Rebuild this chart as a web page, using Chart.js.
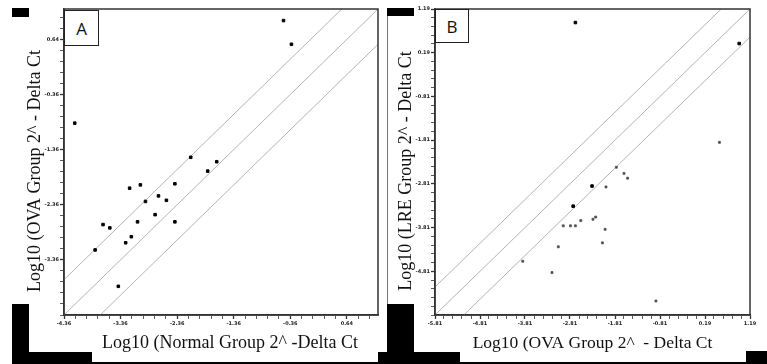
<!DOCTYPE html>
<html>
<head>
<meta charset="utf-8">
<script src="https://cdn.jsdelivr.net/npm/chart.js@4.4.1/dist/chart.umd.min.js"></script>
<style>
  html, body { margin: 0; padding: 0; background: #fff; }
  #page { position: relative; width: 767px; height: 364px; overflow: hidden; background: #fff; }
  canvas { position: absolute; top: 0; }
  #chartA { left: 0; }
  #chartB { left: 383px; }
  .blk { position: absolute; background: #000; }
  .vline { position: absolute; background: #777; width: 1px; }
  .tag {
    position: absolute; box-sizing: border-box; border: 1.5px solid #222; background: #fff;
    font-family: "Open Sans", "Liberation Sans", sans-serif; font-size: 17px; color: #111;
    display: flex; align-items: center; justify-content: center;
  }
</style>
</head>
<body>
<div id="page">
  <canvas id="chartA" width="383" height="364"></canvas>
  <canvas id="chartB" width="384" height="364"></canvas>

  <!-- black scraps of the original figure background -->
  <div class="blk" style="left:12px;top:8px;width:17px;height:9px"></div>
  <div class="blk" style="left:387px;top:8px;width:27px;height:8px"></div>
  <div class="blk" style="left:12px;top:304px;width:17px;height:60px"></div>
  <div class="blk" style="left:12px;top:352px;width:80px;height:12px"></div>
  <div class="blk" style="left:387px;top:304px;width:27px;height:60px"></div>
  <div class="blk" style="left:378px;top:352px;width:82px;height:12px"></div>
  <div class="blk" style="left:746px;top:351px;width:21px;height:13px"></div>
  <div class="blk" style="left:12px;top:362px;width:755px;height:2px"></div>
  <div class="vline" style="left:387px;top:16px;height:288px"></div>

  <div class="tag" style="left:64px;top:10px;width:35px;height:36px">A</div>
  <div class="tag" style="left:435px;top:9px;width:34px;height:34px">B</div>
</div>

<script>
// Panel A: Normal vs OVA
const rangeA = [-4.36, 1.19];
const xTicksA = [-4.36, -3.36, -2.36, -1.36, -0.36, 0.64];
const yTicksA = [-3.36, -2.36, -1.36, -0.36, 0.64];
const normalLog = [-0.48, -0.34, -4.17, -2.12, -1.66, -1.82, -3.20, -3.01, -2.40, -2.69, -2.55,
                   -2.92, -2.75, -3.06, -2.40, -3.67, -3.55, -3.17, -3.27, -3.81, -3.40];
const ovaLogA = [0.98, 0.55, -0.88, -1.50, -1.58, -1.75, -2.06, -2.00, -1.98, -2.20, -2.28,
                 -2.30, -2.54, -2.67, -2.67, -2.72, -2.78, -2.94, -3.05, -3.18, -3.84];

// Panel B: OVA vs LRE
const rangeB = [-5.81, 1.19];
const xTicksB = [-5.81, -4.81, -3.81, -2.81, -1.81, -0.81, 0.19, 1.19];
const yTicksB = [-4.81, -3.81, -2.81, -1.81, -0.81, 0.19, 1.19];
const ovaLogB = [0.51, -1.78, -1.61, -1.53, -2.01, -2.24, -2.30, -2.57, -2.69, -2.80, -2.96,
                 -2.03, -2.09, -3.07, -3.86, -3.21, -0.90];
const lreLog = [-1.86, -2.43, -2.57, -2.68, -2.88, -3.57, -3.62, -3.65, -3.77, -3.77, -3.77,
                -3.85, -4.16, -4.25, -4.58, -4.84, -5.49];
const ovaLogBmarked = [-2.69, 0.95, -2.32, -2.74];
const lreLogMarked = [0.88, 0.40, -2.86, -3.32];

// fold-change guide lines (y = x + offset)
const foldOffsets = [-0.64, 0, 0.64];

const serif = 'Liberation Serif';
const nb = '\u00a0\u00a0\u00a0\u00a0'; // nudges a title along its axis

function toPoints(xs, ys) {
    return xs.map((x, i) => ({ x: x, y: ys[i] }));
}

function guideLines(range) {
    return foldOffsets.map(off => ({
        type: 'line',
        data: [{ x: range[0], y: range[0] + off }, { x: range[1], y: range[1] + off }],
        borderColor: '#b4b4b4',
        borderWidth: 1,
        pointRadius: 0,
        order: 2
    }));
}

// majors every 1, minor marks every 0.2
function buildTicks(majors, range) {
    const step = 0.2;
    let v = majors[0];
    while (v - step >= range[0] - 1e-6) v -= step;
    const out = [];
    for (; v <= range[1] + 1e-6; v += step) out.push({ value: +v.toFixed(3) });
    return out;
}

function isMajor(majors, value) {
    return majors.find(m => Math.abs(m - value) < 0.01);
}

function axis(majors, range, opts) {
    return {
        type: 'linear',
        min: range[0],
        max: range[1],
        afterBuildTicks: s => { s.ticks = buildTicks(majors, range); },
        afterFit: s => {
            if (opts.width) s.width = opts.width;
            if (opts.height) s.height = opts.height;
        },
        border: { display: true, color: '#333', width: 1.5 },
        grid: {
            drawOnChartArea: false,
            drawTicks: true,
            tickLength: 4,
            tickColor: '#333',
            tickWidth: ctx => isMajor(majors, ctx.tick.value) !== undefined ? 1.3 : 0.8
        },
        ticks: {
            autoSkip: false,
            maxRotation: 0,
            padding: opts.tickPad,
            color: '#222',
            font: { family: 'DejaVu Sans', size: 5, weight: 'bold' },
            callback: value => {
                const m = isMajor(majors, value);
                return m !== undefined ? m.toFixed(2) : '';
            }
        },
        title: {
            display: true,
            text: opts.title,
            color: '#111',
            font: { family: serif, size: opts.titleSize || 18 },
            padding: opts.titlePad
        }
    };
}

const framePlugin = {
    id: 'frame',
    afterDraw(chart) {
        const { ctx, chartArea: a } = chart;
        ctx.save();
        ctx.strokeStyle = '#333';
        ctx.lineWidth = 1.5;
        ctx.strokeRect(a.left, a.top, a.right - a.left, a.bottom - a.top);
        ctx.restore();
    }
};

function makeChart(id, cfg) {
    return new Chart(document.getElementById(id), {
        type: 'scatter',
        data: { datasets: cfg.datasets },
        options: {
            responsive: false,
            animation: false,
            devicePixelRatio: 1,
            layout: { padding: cfg.padding },
            plugins: { legend: { display: false }, tooltip: { enabled: false } },
            scales: { x: cfg.x, y: cfg.y }
        },
        plugins: [framePlugin]
    });
}

makeChart('chartA', {
    padding: { top: 9, right: 5, left: 0, bottom: 0 },
    datasets: [
        {
            data: toPoints(normalLog, ovaLogA),
            pointStyle: 'rect',
            pointRadius: 1.8,
            backgroundColor: '#000',
            borderColor: '#000',
            borderWidth: 1,
            order: 1
        },
        ...guideLines(rangeA)
    ],
    x: axis(xTicksA, rangeA, { height: 49, tickPad: 2, title: nb + 'Log10 (Normal Group 2^ -Delta Ct', titlePad: { top: 0, bottom: 10 } }),
    y: axis(yTicksA, rangeA, { width: 64, tickPad: 1, title: 'Log10 (OVA Group 2^ - Delta Ct' + nb, titlePad: { top: 24, bottom: 0 } })
});

makeChart('chartB', {
    padding: { top: 9, right: 17, left: 0, bottom: 0 },
    datasets: [
        {
            data: toPoints(ovaLogBmarked, lreLogMarked),
            pointStyle: 'rect',
            pointRadius: 1.8,
            backgroundColor: '#000',
            borderColor: '#000',
            borderWidth: 1,
            order: 1
        },
        {
            data: toPoints(ovaLogB, lreLog),
            pointStyle: 'rect',
            pointRadius: 1.4,
            backgroundColor: '#444',
            borderColor: '#555',
            borderWidth: 0.8,
            order: 1
        },
        ...guideLines(rangeB)
    ],
    x: axis(xTicksB, rangeB, { height: 49, tickPad: 2, titleSize: 17.5, title: 'Log10 (OVA Group 2^  - Delta Ct', titlePad: { top: 0, bottom: 10 } }),
    y: axis(yTicksB, rangeB, { width: 52, tickPad: 1, title: 'Log10 (LRE Group 2^ - Delta Ct' + nb, titlePad: { top: 12, bottom: 0 } })
});
</script>
</body>
</html>
